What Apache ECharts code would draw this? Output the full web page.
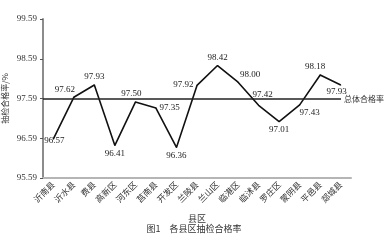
<!DOCTYPE html>
<html><head><meta charset="utf-8">
<script src="https://cdn.jsdelivr.net/npm/echarts@6/dist/echarts.min.js"></script>
<style>html,body{margin:0;padding:0;background:#fff}#c{width:388px;height:240px}</style>
</head><body><div id="c"></div>
<script>
const categories = ['沂南县','沂水县','费县','高新区','河东区','莒南县','开发区','兰陵县','兰山区','临港区','临沭县','罗庄区','蒙阴县','平邑县','郯城县'];
const rates = [96.57,97.62,97.93,96.41,97.50,97.35,96.36,97.92,98.42,98.00,97.42,97.01,97.43,98.18,97.93];
const totalRate = 97.59;
const yTicks = ['95.59','96.59','97.59','98.59','99.59'];
const yMin = 95.59, yMax = 99.59;

const labelPos = [
  {position:'bottom', offset:[1,-6]},
  {position:'top', offset:[-9,0]},
  {position:'top', offset:[0,0]},
  {position:'bottom', offset:[0,0]},
  {position:'top', offset:[-4,0]},
  {position:'right', offset:[0,0]},
  {position:'bottom', offset:[0,0]},
  {position:'left', offset:[0,-1]},
  {position:'top', offset:[0,0]},
  {position:'top', offset:[12,0]},
  {position:'top', offset:[4,-3]},
  {position:'bottom', offset:[0,0]},
  {position:'bottom', offset:[10,0]},
  {position:'top', offset:[-5,0]},
  {position:'bottom', offset:[-4,-1]}
];
const numFont = 'Liberation Serif';
const cjkFont = 'Noto Sans CJK SC';
const chart = echarts.init(document.getElementById('c'), null, {renderer:'canvas'});
chart.setOption({
  animation:false,
  backgroundColor:'#fff',
  title:{text:'图1　各县区抽检合格率', left:'center', bottom:2, textStyle:{fontFamily:cjkFont, fontSize:9, fontWeight:'normal', color:'#333'}},
  grid:[
    {left:43, right:37, top:19, bottom:62, containLabel:false, outerBoundsMode:'none'},
    {left:43, right:47, top:19, bottom:62, containLabel:false, outerBoundsMode:'none'}
  ],
  xAxis:[
    {type:'category', data:categories, gridIndex:0, boundaryGap:true,
     name:'县区', nameLocation:'middle', nameGap:36, nameMoveOverlap:false,
     nameTextStyle:{fontFamily:cjkFont, fontSize:9, color:'#333'},
     axisLine:{lineStyle:{color:'#b5b5b5', width:2}},
     axisTick:{show:false},
     axisLabel:{interval:0, rotate:45, fontFamily:cjkFont, fontSize:8.5, color:'#333', margin:5}},
    {type:'value', gridIndex:1, min:0, max:1, show:false}
  ],
  yAxis:[
    {type:'value', gridIndex:0, min:yMin, max:yMax, show:false},
    {type:'value', gridIndex:0, min:0, max:4, interval:1, position:'left',
     name:'抽检合格率/%', nameLocation:'middle', nameRotate:90, nameGap:34, nameMoveOverlap:false,
     nameTextStyle:{fontFamily:cjkFont, fontSize:8, color:'#333'},
     axisLine:{show:true, lineStyle:{color:'#8c8c8c', width:2}},
     axisTick:{show:true, length:3, lineStyle:{color:'#555'}},
     splitLine:{show:false},
     axisLabel:{fontFamily:numFont, fontSize:9, color:'#333', margin:6, formatter:(v)=>yTicks[v]}},
    {type:'value', gridIndex:1, min:yMin, max:yMax, show:false}
  ],
  series:[
    {type:'line', xAxisIndex:0, yAxisIndex:0, data:rates.map((v,i)=>({value:v, label:labelPos[i]})),
     showSymbol:true, showAllSymbol:true, symbol:'circle', symbolSize:1, itemStyle:{color:'#111'}, lineStyle:{color:'#111', width:1.6},
     label:{show:true, fontFamily:numFont, fontSize:9, color:'#222', distance:3, formatter:(p)=>p.value.toFixed(2)}},
    {type:'line', xAxisIndex:1, yAxisIndex:2, data:[], silent:true,
     markLine:{symbol:'none', silent:true, animation:false,
       lineStyle:{color:'#222', width:1.6, type:'solid'},
       label:{show:true, position:'end', distance:3, formatter:'总体合格率', fontFamily:cjkFont, fontSize:8, color:'#333'},
       data:[{yAxis:totalRate}]}}
  ]
});
</script></body></html>
